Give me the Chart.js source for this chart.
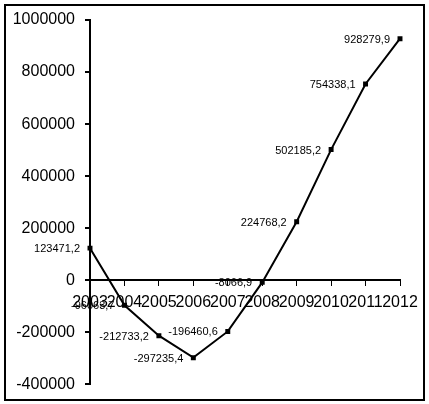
<!DOCTYPE html>
<html>
<head>
<meta charset="utf-8">
<script src="https://cdn.jsdelivr.net/npm/chart.js@4"></script>
<style>
  html, body { margin: 0; padding: 0; background: #fff; }
  #wrap { position: relative; width: 429px; height: 404px; }
</style>
</head>
<body>
<div id="wrap"><canvas id="c" width="429" height="404"></canvas></div>
<script>
const years = ['2003','2004','2005','2006','2007','2008','2009','2010','2011','2012'];
const values = [123471.2, -96063.7, -212733.2, -297235.4, -196460.6, -8066.9, 224768.2, 502185.2, 754338.1, 928279.9];
const yMin = -400000, yMax = 1000000, yStep = 200000;

const frame = {
  id: 'frame',
  beforeDraw(chart) {
    const ctx = chart.ctx;
    ctx.save();
    ctx.fillStyle = '#fff';
    ctx.fillRect(0, 0, chart.width, chart.height);
    ctx.restore();
  },
  afterDraw(chart) {
    const ctx = chart.ctx;
    ctx.save();
    ctx.strokeStyle = '#000';
    ctx.lineWidth = 2;
    ctx.strokeRect(5, 5, 419, 395);
    ctx.restore();
  }
};

const pointLabels = {
  id: 'pointLabels',
  afterDatasetsDraw(chart) {
    const ctx = chart.ctx;
    const meta = chart.getDatasetMeta(0);
    ctx.save();
    ctx.font = '11px "Liberation Sans", Arial, sans-serif';
    ctx.fillStyle = '#000';
    ctx.textAlign = 'right';
    ctx.textBaseline = 'middle';
    meta.data.forEach((pt, i) => {
      const txt = values[i].toFixed(1).replace('.', ',');
      ctx.fillText(txt, pt.x - 10, pt.y + 1);
    });
    ctx.restore();
  }
};

new Chart(document.getElementById('c'), {
  type: 'line',
  data: {
    labels: years,
    datasets: [{
      data: values,
      borderColor: '#000',
      backgroundColor: '#000',
      borderWidth: 2,
      tension: 0,
      pointStyle: 'rect',
      pointRadius: 3.5,
      pointBorderWidth: 0,
      fill: false
    }]
  },
  options: {
    responsive: false,
    animation: false,
    layout: { padding: { left: 0, right: 29, top: 20, bottom: 19 } },
    plugins: { legend: { display: false }, tooltip: { enabled: false } },
    scales: {
      x: {
        type: 'category',
        position: { y: 0 },
        offset: false,
        z: 1,
        grid: { drawOnChartArea: false, drawTicks: true, tickLength: 5, color: '#000', lineWidth: 1 },
        border: { display: true, color: '#000', width: 2 },
        ticks: {
          autoSkip: false, maxRotation: 0, minRotation: 0, padding: 8,
          color: '#000',
          font: { family: '"Liberation Sans", Arial, sans-serif', size: 16 }
        }
      },
      y: {
        min: yMin, max: yMax,
        afterFit(scale) { scale.width = 90; },
        grid: { drawOnChartArea: false, drawTicks: true, tickLength: 5, color: '#000', lineWidth: 2 },
        border: { display: true, color: '#000', width: 2 },
        ticks: {
          stepSize: yStep, padding: 10, color: '#000',
          font: { family: '"Liberation Sans", Arial, sans-serif', size: 16 },
          callback: v => String(v)
        }
      }
    }
  },
  plugins: [frame, pointLabels]
});
</script>
</body>
</html>
